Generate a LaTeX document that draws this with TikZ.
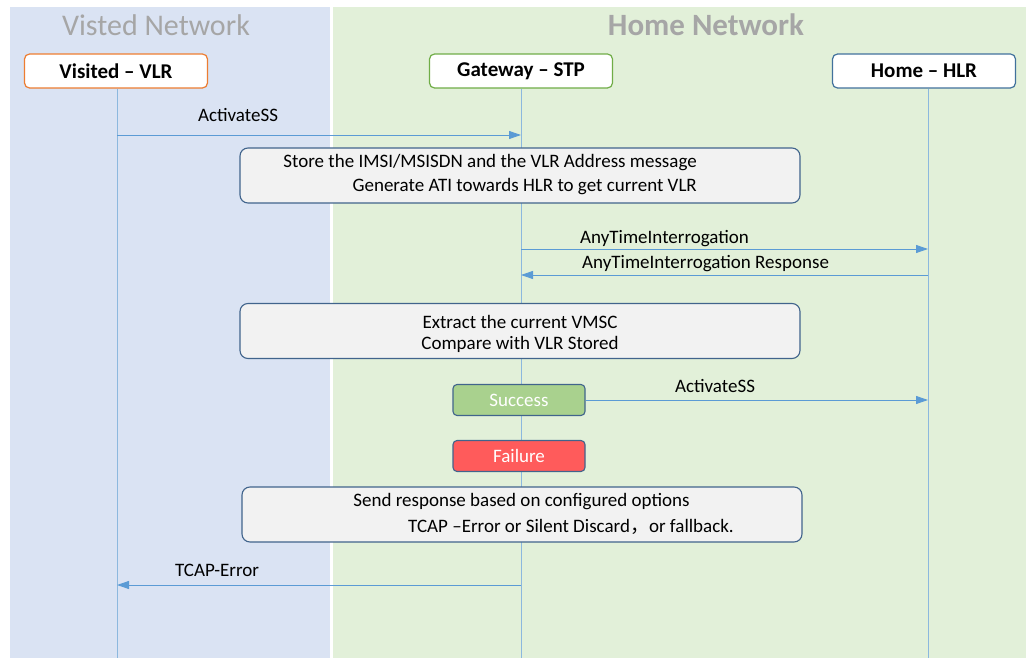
\documentclass[tikz,border=0pt]{standalone}
\usepackage{fontspec}
\setmainfont{Carlito}
\newfontfamily\cjkfont{Noto Sans CJK SC}
\usetikzlibrary{arrows.meta}
\definecolor{bluebg}{RGB}{218,227,243}
\definecolor{greenbg}{RGB}{226,240,217}
\definecolor{titlegray}{RGB}{166,166,166}
\definecolor{vlrorange}{RGB}{237,125,49}
\definecolor{stpgreen}{RGB}{112,173,71}
\definecolor{hlrblue}{RGB}{65,113,156}
\definecolor{lifeblue}{RGB}{140,184,222}
\definecolor{msgblue}{RGB}{91,155,213}
\definecolor{procfill}{RGB}{242,242,242}
\definecolor{procdraw}{RGB}{65,100,140}
\definecolor{succfill}{RGB}{169,209,142}
\definecolor{failfill}{RGB}{255,91,91}
\tikzset{
  headbox/.style={draw, fill=white, rounded corners=5pt, line width=1.2pt,
    minimum width=183pt, minimum height=34pt, inner sep=0pt,
    font=\fontsize{21}{24}\selectfont\bfseries},
  procbox/.style={draw=procdraw, fill=procfill, rounded corners=8pt, line width=1.1pt,
    minimum width=560pt, minimum height=55pt, inner sep=0pt},
  statebox/.style={draw=procdraw, rounded corners=4pt, line width=1.1pt,
    minimum width=132pt, minimum height=31pt, inner sep=0pt, text=white,
    font=\fontsize{19}{22}\selectfont},
  txt/.style={inner sep=0pt, font=\fontsize{19}{22}\selectfont},
  lifeline/.style={draw=lifeblue, line width=0.9pt},
  msg/.style={draw=msgblue, line width=0.9pt, -{Triangle[length=12pt,width=8pt]}},
}
\begin{document}
\begin{tikzpicture}[x=1pt,y=-1pt]
\useasboundingbox (0,0) rectangle (1026,658);
% backgrounds
\fill[bluebg] (10,7) rectangle (330,658);
\fill[greenbg] (333,7) rectangle (1026,658);
% titles
\node[txt, text=titlegray, font=\fontsize{30}{34}\selectfont] (tv) at (156,25) {Visted Network};
\node[txt, text=titlegray, font=\fontsize{31}{34}\selectfont\bfseries] (th) at (706,25) {Home Network};
% lifeline heads
\node[headbox, draw=vlrorange] (vlr) at (116,71) {Visited -- VLR};
\node[headbox, draw=stpgreen] (stp) at (521,71) {Gateway -- STP};
\node[headbox, draw=hlrblue] (hlr) at (924,71) {Home -- HLR};
% lifeline coordinates
\coordinate (vlrB) at (117,658);
\coordinate (stpB) at (521,658);
\coordinate (hlrB) at (928,658);
\draw[lifeline] (vlr.south -| vlrB) -- (vlrB);
\draw[lifeline] (stp.south -| stpB) -- (stpB);
\draw[lifeline] (hlr.south -| hlrB) -- (hlrB);
% message points
\coordinate (m1a) at (117,135); \coordinate (m1b) at (521,135);
\coordinate (m2a) at (521,249); \coordinate (m2b) at (928,249);
\coordinate (m3a) at (928,275); \coordinate (m3b) at (521,275);
\coordinate (m4b) at (928,401);
\coordinate (m5a) at (521,585); \coordinate (m5b) at (117,585);
% ActivateSS
\draw[msg] (m1a) -- (m1b);
\node[txt] (l1) at (238,115) {ActivateSS};
% process box 1
\node[procbox] (p1) at (520,175.5) {};
\node[txt, anchor=east] (p1a) at (697,163) {Store the IMSI/MSISDN and the VLR Address message};
\node[txt, anchor=east] (p1b) at (697,187) {Generate ATI towards HLR to get current VLR};
% ATI
\draw[msg] (m2a) -- (m2b);
\node[txt, anchor=west] (l2) at (580,239) {AnyTimeInterrogation};
\draw[msg] (m3a) -- (m3b);
\node[txt, anchor=west] (l3) at (582,264) {AnyTimeInterrogation Response};
% process box 2
\node[procbox] (p2) at (520,331) {};
\node[txt] (p2a) at (520,322) {Extract the current VMSC};
\node[txt] (p2b) at (520,344) {Compare with VLR Stored};
% success / failure
\node[statebox, fill=succfill] (succ) at (519,400) {Success};
\node[statebox, fill=failfill] (fail) at (519,456) {Failure};
\draw[msg] (succ.east) -- (succ.east -| m4b);
\node[txt] (l4) at (715,386) {ActivateSS};
% process box 3
\node[procbox] (p3) at (522,514.5) {};
\node[txt] (p3a) at (521.5,502) {Send response based on configured options};
\node[txt, anchor=west] (p3b) at (408,527) {TCAP --Error or Silent Discard{\cjkfont ，}or fallback.};
% TCAP-Error
\draw[msg] (m5a) -- (m5b);
\node[txt] (l5) at (217,570) {TCAP-Error};
\end{tikzpicture}
\end{document}
